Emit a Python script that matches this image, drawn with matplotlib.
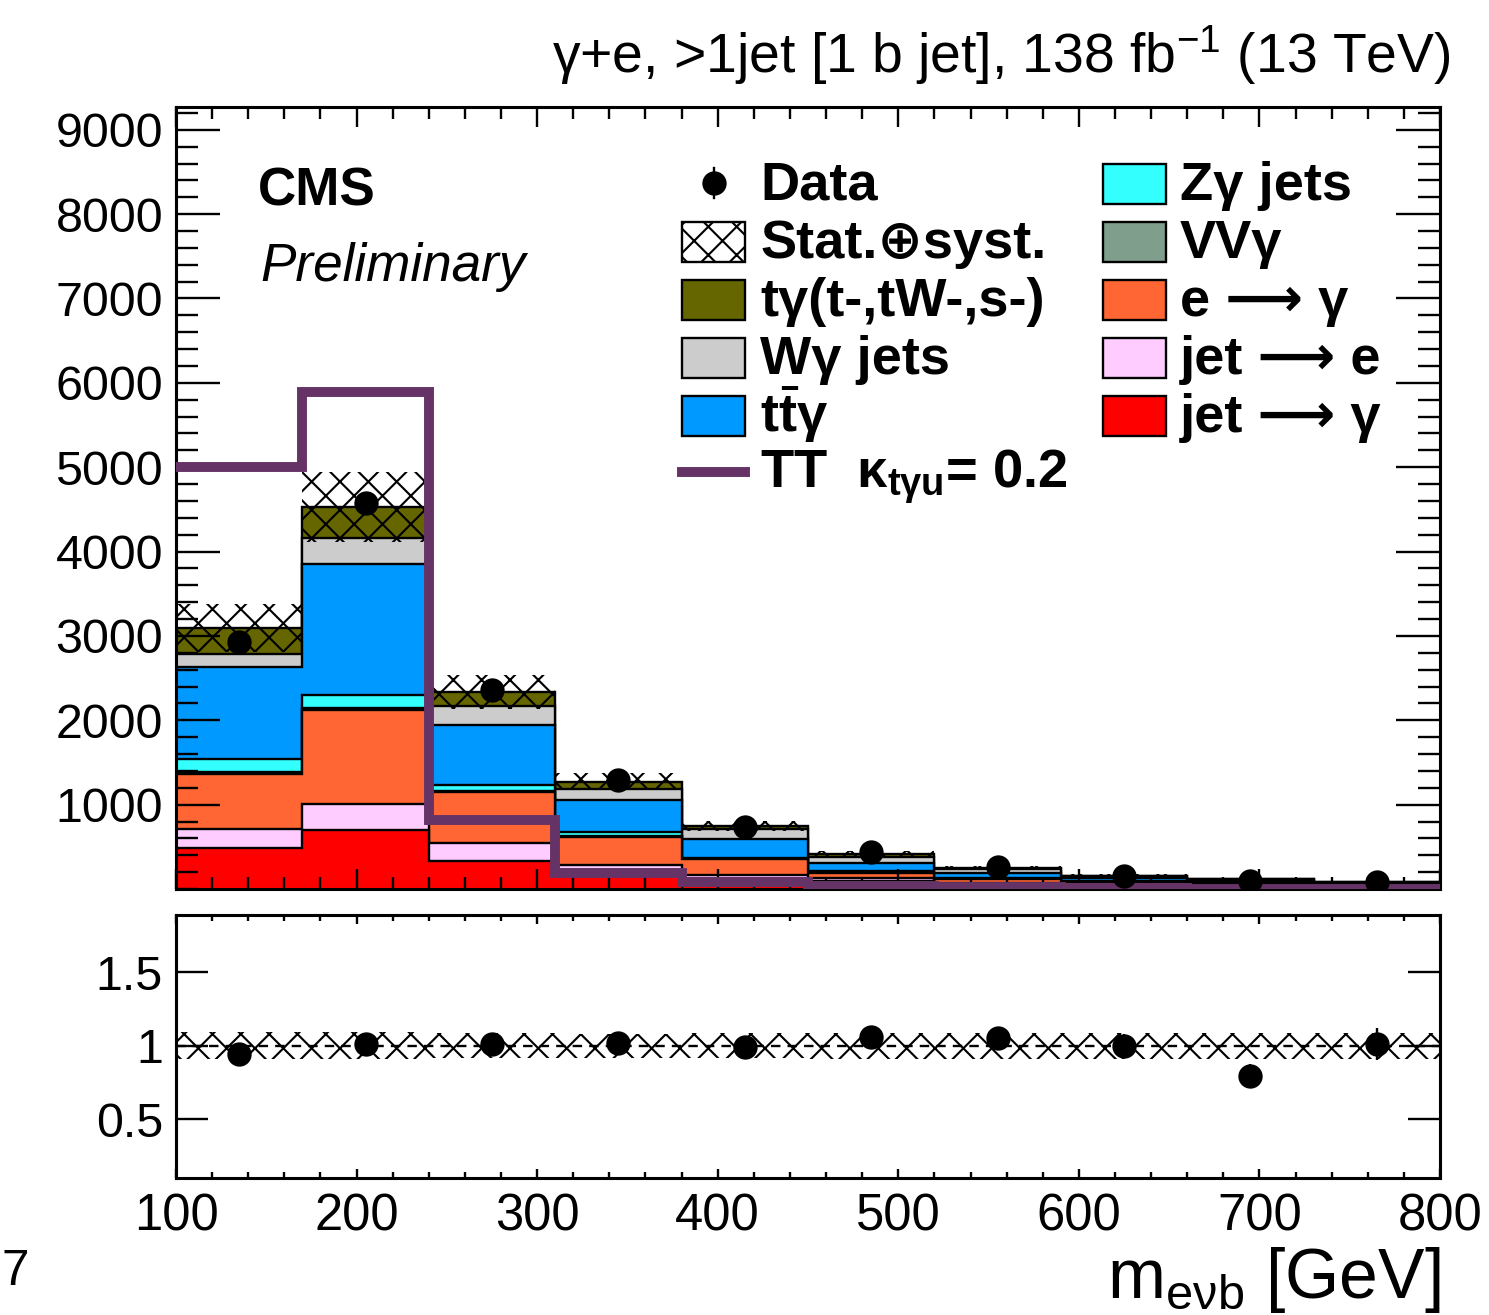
#!/usr/bin/env python3
# m_eνb (γ+e, >1 jet, 1 b jet): stacked backgrounds, data, TT signal,
# with the data/MC ratio in a panel underneath. Saved as out.png.
import numpy as np
import matplotlib
matplotlib.use("Agg")  # headless
import matplotlib.pyplot as plt
from matplotlib.patches import Rectangle
from matplotlib.lines import Line2D
from matplotlib.ticker import MultipleLocator, NullLocator

W, H, DPI = 1489, 1315, 170  # dpi 170 -> 'xx' hatch spacing close to the original

plt.rcParams.update({
    "font.family": ["Liberation Sans", "DejaVu Sans"],
    "mathtext.fontset": "custom",
    "mathtext.rm": "Liberation Sans",
    "mathtext.it": "Liberation Sans:italic",
    "mathtext.bf": "Liberation Sans:bold",
    "hatch.linewidth": 0.9,
    "axes.linewidth": 1.3,
})

# bin edges in GeV
EDGES = [100, 170, 240, 310, 380, 450, 520, 590, 660, 730, 800]

# background yields per bin (stack order, bottom -> top)
JET_GAMMA = [486, 700, 332, 220, 120, 95, 50, 35, 25, 18]
JET_E = [226, 308, 214, 65, 50, 35, 25, 15, 12, 8]
E_GAMMA = [652, 1115, 605, 332, 180, 60, 44, 30, 22, 15]
VV_GAMMA = [20, 20, 10, 10, 5, 5, 3, 2, 2, 1]
Z_GAMMA = [158, 158, 73, 49, 15, 15, 10, 8, 6, 4]
TT_GAMMA = [1091, 1554, 711, 380, 223, 98, 58, 35, 25, 17]
W_GAMMA = [155, 309, 226, 130, 119, 75, 45, 28, 22, 15]
T_GAMMA = [308, 367, 166, 86, 35, 32, 15, 7, 6, 4]

DATA = [2930, 4579, 2360, 1293, 740, 440, 263, 160, 95, 83]
UNC_REL = [0.092, 0.092, 0.086, 0.082, 0.085, 0.09, 0.09, 0.09, 0.09, 0.09]
TT_SIGNAL = [5000, 5896, 818, 190, 83, 35, 18, 10, 5, 3]

RED = "#FF0000"
PINK = "#FFCCFF"
ORANGE = "#FF6633"
SAGE = "#7F9F8C"
CYAN = "#33FFFF"
BLUE = "#0099FF"
GRAY = "#CCCCCC"
OLIVE = "#666600"
PURPLE = "#663366"

FS_TICK = 20.5
FS_LEG = 23
HATCH = "xx"


def px(x):
    return x / W


def py(y):
    return 1 - y / H


def ticks_in(ax):
    ax.tick_params(which="both", direction="in", top=True, right=True,
                   width=1.0, colors="black")


def upper(fig, stack, total):
    ax = fig.add_axes([px(176), py(889), px(1440) - px(176), py(107) - py(889)])
    cum = np.cumsum([np.array(v, float) for v, _ in stack], axis=0)
    # ROOT-style stack: draw the tallest first, each filled from zero
    for (_, color), top in reversed(list(zip(stack, cum))):
        ax.stairs(top, EDGES, baseline=0, fill=True, facecolor=color,
                  edgecolor="black", linewidth=1.0, zorder=1)
    unc = total * np.array(UNC_REL)
    ax.bar(EDGES[:-1], 2 * unc, bottom=total - unc, width=np.diff(EDGES),
           align="edge", fill=False, hatch=HATCH, edgecolor="black",
           linewidth=0, zorder=2)
    ax.stairs(TT_SIGNAL, EDGES, baseline=None, color=PURPLE, linewidth=4.2,
              zorder=3)
    centers = 0.5 * (np.array(EDGES[:-1]) + np.array(EDGES[1:]))
    ax.errorbar(centers, DATA, yerr=np.sqrt(DATA), fmt="o", color="black",
                ms=9.3, elinewidth=1.0, capsize=0, zorder=4)

    ax.set_xlim(100, 800)
    ax.set_ylim(0, 9270)
    ax.set_yticks(range(1000, 10000, 1000))
    ax.yaxis.set_minor_locator(MultipleLocator(200))
    ax.xaxis.set_minor_locator(MultipleLocator(20))
    ticks_in(ax)
    ax.tick_params(axis="y", which="major", length=18.6, pad=5.5,
                   labelsize=FS_TICK)
    ax.tick_params(axis="y", which="minor", length=9.3)
    ax.tick_params(axis="x", which="major", length=8.5)
    ax.tick_params(axis="x", which="minor", length=5)
    ax.tick_params(labelbottom=False)
    return ax


def lower(fig, total):
    ax = fig.add_axes([px(176), py(1178), px(1440) - px(176), py(915) - py(1178)])
    u = np.array(UNC_REL)
    ax.bar(EDGES[:-1], 2 * u, bottom=1 - u, width=np.diff(EDGES),
           align="edge", fill=False, hatch=HATCH, edgecolor="black",
           linewidth=0, zorder=2)
    ax.axhline(1, color="black", ls=(0, (4, 3)), lw=1.0, zorder=3)
    centers = 0.5 * (np.array(EDGES[:-1]) + np.array(EDGES[1:]))
    data = np.array(DATA, float)
    ax.errorbar(centers, data / total, yerr=np.sqrt(data) / total, fmt="o",
                color="black", ms=9.3, elinewidth=1.0, capsize=0, zorder=4)

    ax.set_xlim(100, 800)
    ax.set_ylim(0.1, 1.89)
    ax.set_yticks([0.5, 1, 1.5])
    ax.set_yticklabels(["0.5", "1", "1.5"])
    ax.yaxis.set_minor_locator(NullLocator())
    ax.set_xticks(range(100, 900, 100))
    ax.xaxis.set_minor_locator(MultipleLocator(20))
    ticks_in(ax)
    ax.tick_params(axis="y", which="major", length=13.5, pad=5.5,
                   labelsize=FS_TICK)
    ax.tick_params(axis="x", which="major", length=4, pad=6,
                   labelsize=FS_TICK + 1)
    ax.tick_params(axis="x", which="minor", length=2.5)
    return ax


def legend(fig):
    def box(x0, yc, color=None, hatch=None):
        r = Rectangle((px(x0), py(yc + 20)), px(63), py(0) - py(40),
                      transform=fig.transFigure, facecolor=color or "none",
                      edgecolor="black", linewidth=1.0, hatch=hatch)
        fig.add_artist(r)

    def label(x, ybase, s):
        fig.text(px(x), py(ybase), s, fontsize=FS_LEG, fontweight="bold",
                 ha="left", va="baseline")

    # column 1
    fig.add_artist(Line2D([px(713.5)] * 2, [py(168), py(198)],
                          transform=fig.transFigure, color="black", lw=1.0))
    fig.add_artist(Line2D([px(713.5)], [py(183)], transform=fig.transFigure,
                          marker="o", ms=9.3, color="black", ls="none"))
    label(760, 200, "Data")
    box(682, 242, hatch=HATCH)
    label(760, 258, "Stat.⊕syst.")
    box(682, 300, OLIVE)
    label(760, 316, "tγ(t-,tW-,s-)")
    box(682, 358, GRAY)
    label(760, 374, "Wγ jets")
    box(682, 416, BLUE)
    label(760, 432, r"t$\mathbf{\bar{t}}$γ")
    fig.add_artist(Line2D([px(682), px(745)], [py(472)] * 2,
                          transform=fig.transFigure, color=PURPLE, lw=4.2))
    label(760, 488, r"TT  κ$_{\mathbf{tγu}}$= 0.2")

    # column 2
    for yc, color, text in ((184, CYAN, "Zγ jets"),
                            (242, SAGE, "VVγ"),
                            (300, ORANGE, "e ⟶ γ"),
                            (358, PINK, "jet ⟶ e"),
                            (416, RED, "jet ⟶ γ")):
        box(1103, yc, color)
        label(1180, yc + 16, text)


def main():
    fig = plt.figure(figsize=(W / DPI, H / DPI), dpi=DPI)
    stack = [(JET_GAMMA, RED), (JET_E, PINK), (E_GAMMA, ORANGE),
             (VV_GAMMA, SAGE), (Z_GAMMA, CYAN), (TT_GAMMA, BLUE),
             (W_GAMMA, GRAY), (T_GAMMA, OLIVE)]
    total = np.sum([np.array(v, float) for v, _ in stack], axis=0)

    upper(fig, stack, total)
    lower(fig, total)
    legend(fig)

    fig.text(px(1450), py(73), r"γ+e, >1jet [1 b jet], 138 fb$^{-1}$ (13 TeV)",
             fontsize=23.4, ha="right", va="baseline")
    fig.text(px(258), py(206), "CMS", fontsize=22.5, fontweight="bold",
             ha="left", va="baseline")
    fig.text(px(260), py(281), "Preliminary", fontsize=22.5, style="italic",
             ha="left", va="baseline")
    fig.text(px(1440), py(1298), r"m$_{\mathrm{eνb}}$ [GeV]", fontsize=29.5,
             ha="right", va="baseline")
    fig.text(px(1), py(1285), "7", fontsize=21, ha="left", va="baseline")

    fig.savefig("out.png", dpi=DPI)
    plt.close(fig)


if __name__ == "__main__":
    main()
